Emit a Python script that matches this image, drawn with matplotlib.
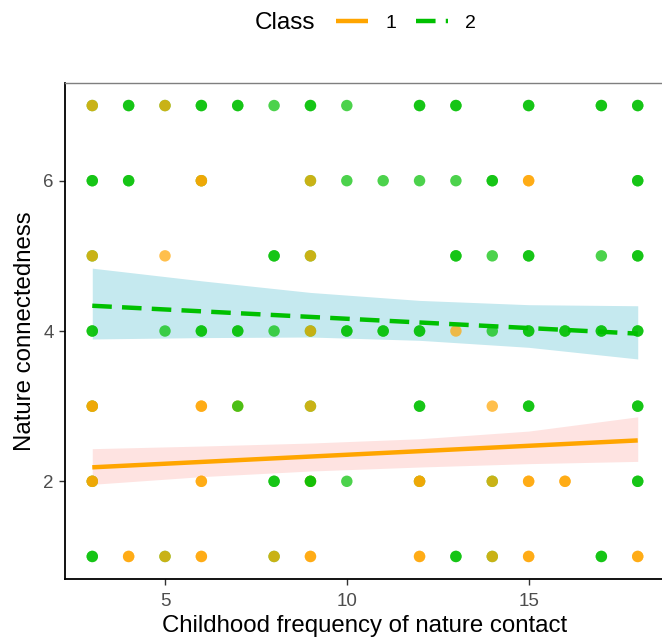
import numpy as np
import matplotlib
matplotlib.use("Agg")
import matplotlib.pyplot as plt
from matplotlib.lines import Line2D

plt.rcParams['font.family'] = ['Liberation Sans', 'DejaVu Sans']

# points, repeated where several respondents share a spot (drawn in this order)
green_x = [3, 4, 4, 5, 6, 6, 7, 7, 8, 9, 9, 10, 12, 12, 13, 13, 15, 15, 17, 17, 18, 18,
           3, 3, 4, 4, 6, 9, 10, 11, 12, 13, 14, 14, 18, 18,
           3, 8, 8, 9, 13, 13, 14, 15, 15, 17, 18, 18,
           3, 3, 5, 6, 6, 7, 7, 8, 9, 10, 10, 11, 11, 12, 12, 14, 15, 15, 16, 16, 17, 17, 18, 18,
           3, 9, 12, 12, 15, 15, 18, 18,
           3, 8, 8, 10, 12, 14, 18, 18,
           3, 3, 5, 8, 13, 13, 14, 17, 17]
green_y = [7] * 22 + [6] * 14 + [5] * 12 + [4] * 24 + [3] * 8 + [2] * 8 + [1] * 9

orange_x = [3, 5,
            6, 6, 9, 15, 15,
            3, 5, 9,
            9, 13,
            3, 3, 6, 6, 7, 9, 14,
            3, 3, 6, 6, 9, 12, 12, 14, 15, 15, 16, 16,
            4, 4, 5, 6, 6, 8, 9, 9, 12, 12, 14, 15, 15, 18, 18]
orange_y = [7] * 2 + [6] * 5 + [5] * 3 + [4] * 2 + [3] * 7 + [2] * 12 + [1] * 15

# green points that sit on top of orange ones
green_top_x = [7, 9, 9]
green_top_y = [3, 2, 2]

# fitted lines and confidence bands
line_x = [3, 18]
fit1 = [2.186, 2.544]
fit2 = [4.336, 3.965]

band_x = [3, 6, 9, 12, 15, 18]
band1_hi = [2.434, 2.469, 2.509, 2.566, 2.668, 2.858]
band1_lo = [1.960, 2.062, 2.137, 2.190, 2.235, 2.265]
band2_hi = [4.836, 4.668, 4.513, 4.407, 4.350, 4.336]
band2_lo = [3.894, 3.912, 3.920, 3.876, 3.783, 3.628]

orange = '#FFA500'
green = '#00C000'

fig = plt.figure(figsize=(6.62, 6.41), dpi=100)
ax = fig.add_axes([65 / 662, 1 - 579 / 641, 600 / 662, 496 / 641])

ax.fill_between(band_x, band2_lo, band2_hi, color='#C5E9EF', lw=0, zorder=1)
ax.fill_between(band_x, band1_lo, band1_hi, color='#FEE3E1', lw=0, zorder=1)

ms = 68
ax.scatter(green_x, green_y, s=ms, color=green, alpha=0.7, edgecolors='none', zorder=2)
ax.scatter(orange_x, orange_y, s=ms, color=orange, alpha=0.7, edgecolors='none', zorder=3)
ax.scatter(green_top_x, green_top_y, s=ms, color=green, alpha=0.7, edgecolors='none', zorder=4)

ax.plot(line_x, fit1, color=orange, lw=3.2, solid_capstyle='butt', zorder=5)
ax.plot(line_x, fit2, color=green, lw=3.2, dashes=(4.4, 2.3), dash_capstyle='butt', zorder=5)

ax.set_xlim(2.25, 18.75)
ax.set_ylim(0.7, 7.3)
ax.set_xticks([5, 10, 15])
ax.set_yticks([2, 4, 6])
ax.tick_params(length=4, width=1, color='#333333', labelcolor='#4D4D4D', labelsize=13.5, pad=4)
ax.tick_params(axis='x', pad=6)

for s in ['left', 'bottom']:
    ax.spines[s].set_color('black')
    ax.spines[s].set_linewidth(1.3)
ax.spines['top'].set_color('#7F7F7F')
ax.spines['top'].set_linewidth(1.0)
ax.spines['right'].set_visible(False)

ax.set_xlabel('Childhood frequency of nature contact', fontsize=17.3, labelpad=4)
ax.set_ylabel('Nature connectedness', fontsize=17.3, labelpad=5)

fig.text(255 / 662, 1 - 23 / 641, 'Class', fontsize=17.5, va='center', ha='left')
handles = [Line2D([], [], color=orange, lw=3.2, solid_capstyle='butt'),
           Line2D([], [], color=green, lw=3.2, dashes=(4.4, 2.3), dash_capstyle='butt')]
fig.legend(handles, ['1', '2'], ncol=2, frameon=False, fontsize=14,
           loc='center left', bbox_to_anchor=(336 / 662, 1 - 23 / 641),
           borderpad=0, borderaxespad=0, handlelength=1.65, handletextpad=0.9,
           columnspacing=1.0)

fig.savefig('out.png', dpi=100)
